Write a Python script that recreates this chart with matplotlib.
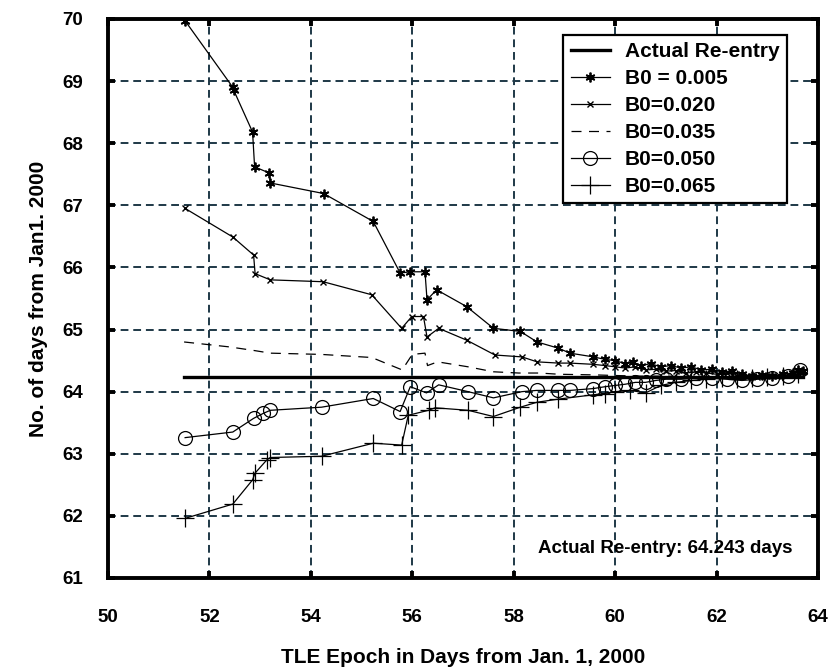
import matplotlib.pyplot as plt

# data
reentry_x = [51.5, 63.7]
reentry_y = [64.243, 64.243]

b005_x = [51.52, 52.46, 52.48, 52.85, 52.89, 53.18, 53.2, 54.25, 55.23, 55.76, 55.96, 56.25, 56.29, 56.48,
          57.07, 57.6, 58.13, 58.46, 58.88, 59.11, 59.57, 59.8, 60.0, 60.2, 60.35, 60.5, 60.7, 60.9, 61.1,
          61.3, 61.5, 61.7, 61.9, 62.1, 62.3, 62.5, 62.7, 62.9, 63.1, 63.3, 63.5, 63.6, 63.7]
b005_y = [69.97, 68.9, 68.85, 68.18, 67.62, 67.52, 67.36, 67.19, 66.74, 65.91, 65.93, 65.93, 65.48, 65.64,
          65.37, 65.02, 64.97, 64.8, 64.7, 64.62, 64.56, 64.52, 64.5, 64.45, 64.48, 64.42, 64.45, 64.4, 64.42,
          64.38, 64.4, 64.35, 64.36, 64.32, 64.33, 64.28, 64.25, 64.27, 64.25, 64.28, 64.3, 64.35, 64.33]

b020_x = [51.52, 52.46, 52.87, 52.9, 53.2, 54.24, 55.2, 55.79, 55.99, 56.22, 56.29, 56.52, 57.07, 57.63,
          58.16, 58.46, 58.88, 59.11, 59.57, 59.8, 60.0, 60.2, 60.4, 60.6, 60.8, 61.0, 61.2, 61.4, 61.6,
          61.8, 62.0, 62.2, 62.4, 62.6, 62.8, 63.0, 63.2, 63.4, 63.6, 63.7]
b020_y = [66.95, 66.49, 66.2, 65.9, 65.8, 65.77, 65.56, 65.02, 65.21, 65.21, 64.88, 65.02, 64.83, 64.59,
          64.56, 64.48, 64.46, 64.46, 64.44, 64.42, 64.4, 64.38, 64.4, 64.35, 64.36, 64.33, 64.34, 64.3, 64.32,
          64.3, 64.28, 64.3, 64.26, 64.25, 64.24, 64.26, 64.25, 64.27, 64.3, 64.32]

b035_x = [51.5, 52.4, 52.9, 53.2, 54.2, 55.2, 55.8, 56.0, 56.25, 56.3, 56.5, 57.1, 57.6, 58.1, 58.5,
          58.9, 59.6, 60.0, 60.5, 61.0, 61.5, 62.0, 62.5, 63.0, 63.5, 63.7]
b035_y = [64.8, 64.72, 64.66, 64.62, 64.6, 64.55, 64.35, 64.6, 64.62, 64.42, 64.48, 64.4, 64.32, 64.3, 64.3,
          64.28, 64.27, 64.26, 64.25, 64.25, 64.24, 64.24, 64.23, 64.24, 64.25, 64.27]

b050_x = [51.52, 52.46, 52.87, 53.06, 53.2, 54.21, 55.23, 55.76, 55.96, 56.28, 56.52, 57.1, 57.6, 58.16,
          58.45, 58.88, 59.11, 59.57, 59.8, 60.0, 60.2, 60.4, 60.6, 60.8, 61.0, 61.3, 61.6, 61.9, 62.2,
          62.5, 62.8, 63.1, 63.4, 63.65]
b050_y = [63.26, 63.35, 63.57, 63.65, 63.7, 63.75, 63.89, 63.68, 64.08, 63.98, 64.11, 64.0, 63.9, 64.0,
          64.02, 64.02, 64.02, 64.05, 64.08, 64.1, 64.12, 64.15, 64.15, 64.18, 64.2, 64.2, 64.22, 64.22, 64.2,
          64.18, 64.2, 64.22, 64.25, 64.35]

b065_x = [51.52, 52.46, 52.85, 52.9, 53.13, 53.2, 54.21, 55.23, 55.79, 55.92, 56.32, 56.45, 57.1, 57.6,
          58.13, 58.46, 58.88, 59.57, 59.8, 60.0, 60.3, 60.6, 60.9, 61.2, 61.5, 61.8, 62.1, 62.4, 62.7,
          63.0, 63.3, 63.6]
b065_y = [61.96, 62.19, 62.58, 62.69, 62.9, 62.94, 62.96, 63.17, 63.14, 63.62, 63.7, 63.74, 63.7, 63.6,
          63.75, 63.83, 63.88, 63.95, 63.97, 64.0, 64.02, 63.98, 64.1, 64.15, 64.18, 64.2, 64.22, 64.2, 64.22,
          64.24, 64.25, 64.28]

plt.rcParams['font.family'] = ['Liberation Sans', 'DejaVu Sans']
plt.rcParams['font.weight'] = 'bold'

fig = plt.figure(figsize=(8.33, 6.71), dpi=100)
ax = fig.add_axes([0.1297, 0.1386, 0.8523, 0.8331])

ax.plot(reentry_x, reentry_y, color='black', linewidth=2.4, label='Actual Re-entry')
ax.plot(b005_x, b005_y, color='black', linewidth=0.9, marker=(6, 2, 0), markersize=7,
        markeredgewidth=1.3, label='B0 = 0.005')
ax.plot(b020_x, b020_y, color='black', linewidth=0.9, marker='x', markersize=5,
        markeredgewidth=1.0, label='B0=0.020')
ax.plot(b035_x, b035_y, color='black', linewidth=0.9, linestyle=(0, (8, 6)), label='B0=0.035')
ax.plot(b050_x, b050_y, color='black', linewidth=0.9, marker='o', markersize=10, markerfacecolor='none',
        markeredgewidth=0.9, label='B0=0.050')
ax.plot(b065_x, b065_y, color='black', linewidth=0.9, marker='+', markersize=13,
        markeredgewidth=0.9, label='B0=0.065')

ax.set_xlim(50, 64)
ax.set_ylim(61, 70)
ax.set_xticks(range(50, 65, 2))
ax.set_yticks(range(61, 71))
ax.grid(True, color='#1e3846', linestyle=(0, (4, 2.5)), linewidth=1.4)
for s in ax.spines.values():
    s.set_linewidth(2.8)
ax.tick_params(direction='in', length=5, width=2.8, labelsize=13.5, top=True, right=True)
ax.tick_params(axis='x', pad=22)
ax.tick_params(axis='y', pad=18)
for lab in ax.get_xticklabels() + ax.get_yticklabels():
    lab.set_fontweight('bold')

ax.set_xlabel('TLE Epoch in Days from Jan. 1, 2000', fontsize=15, fontweight='bold', labelpad=16)
ax.set_ylabel('No. of days from Jan1. 2000', fontsize=15, fontweight='bold', labelpad=10)

ax.text(63.5, 61.47, 'Actual Re-entry: 64.243 days', fontsize=13.5, fontweight='bold',
        ha='right', va='center')

leg = ax.legend(loc='upper right', bbox_to_anchor=(0.956, 0.971), fontsize=15, frameon=True,
                fancybox=False, edgecolor='black', framealpha=1, handlelength=1.9,
                borderpad=0.35, labelspacing=0.38, handletextpad=0.7, borderaxespad=0)
leg.get_frame().set_linewidth(1.6)
for t in leg.get_texts():
    t.set_fontweight('bold')

fig.savefig('out.png', dpi=100)
